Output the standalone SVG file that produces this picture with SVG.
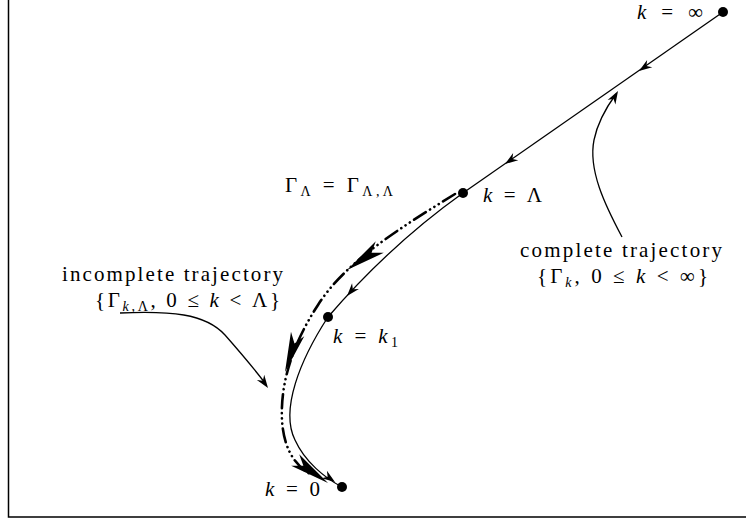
<svg xmlns="http://www.w3.org/2000/svg" xmlns:xlink="http://www.w3.org/1999/xlink" width="746" height="522" viewBox="0 0 746 522">
<style>
text{font-family:"Liberation Serif","DejaVu Serif",serif;font-size:21px;fill:#000}
.it{font-style:italic}
.sub{font-size:14px}
.ln{fill:none;stroke:#000;stroke-width:1.3}
.dd{fill:none;stroke:#000;stroke-width:2.6;stroke-dasharray:14 5 0.1 5 0.1 5 0.1 5;stroke-linecap:round}
.dot{fill:#000}
</style>
<defs>
<path id="ah" d="M0,0 L-13,-4.5 L-9,0 L-13,4.5 Z" fill="#000"/>
<path id="bh" d="M0,0 L-40,-7 L-30,0 L-40,7 Z" fill="#000"/>
</defs>
<rect width="746" height="522" fill="#fff"/>
<g id="frame">
<path d="M8.5,0 V517 H746" fill="none" stroke="#000" stroke-width="1.5"/>
</g>
<g id="connectors">
<path class="ln" d="M723,12 L463,193"/>
<use xlink:href="#ah" transform="translate(639,71) rotate(145.3)"/>
<use xlink:href="#ah" transform="translate(505,164) rotate(145.3)"/>
<path class="ln" d="M463,193 Q390,245 328,317"/>
<use xlink:href="#ah" transform="translate(347,296) rotate(130.7)"/>
<path class="ln" d="M328,317 C300,360 280,410 295,440 C305,462 325,478 342,487"/>
<use xlink:href="#ah" transform="translate(335,482) rotate(35)"/>
<path class="dd" d="M455,194 C400,228 345,262 318,305 C295,340 280,380 282,420 C284,455 300,468 310,474"/>
<use xlink:href="#bh" transform="translate(347,270) rotate(145)"/>
<use xlink:href="#bh" transform="translate(285,372) rotate(108.4)"/>
<use xlink:href="#bh" transform="translate(328,483) rotate(34.9)"/>
<path class="ln" d="M622,237 C605,205 588,170 594,140 C598,120 608,105 616,94"/>
<use xlink:href="#ah" transform="translate(618,91) rotate(-60)"/>
<path class="ln" d="M120,313 C170,311 205,313 225,335 C240,352 255,370 265,383"/>
<use xlink:href="#ah" transform="translate(268,388) rotate(55)"/>
</g>
<g id="node-kinf">
<circle class="dot" cx="723" cy="12" r="5"/>
<text x="637" y="19" textLength="66" lengthAdjust="spacing"><tspan class="it">k</tspan> = ∞</text>
</g>
<g id="node-klambda">
<circle class="dot" cx="463" cy="193" r="5"/>
<text x="483" y="202" textLength="59" lengthAdjust="spacing"><tspan class="it">k</tspan> = Λ</text>
</g>
<g id="node-gamma">
<text x="285" y="192" textLength="108" lengthAdjust="spacing">Γ<tspan class="sub" dy="4">Λ</tspan><tspan dy="-4"> = Γ</tspan><tspan class="sub" dy="4">Λ,Λ</tspan></text>
</g>
<g id="node-k1">
<circle class="dot" cx="328" cy="317" r="5"/>
<text x="333" y="343" textLength="65" lengthAdjust="spacing"><tspan class="it">k</tspan> = <tspan class="it">k</tspan><tspan class="sub" dy="4">1</tspan></text>
</g>
<g id="node-k0">
<circle class="dot" cx="342" cy="487" r="5"/>
<text x="265" y="496" textLength="55" lengthAdjust="spacing"><tspan class="it">k</tspan> = 0</text>
</g>
<g id="label-complete">
<text x="520" y="257" textLength="202" lengthAdjust="spacing">complete trajectory</text>
<text x="537" y="283" textLength="171" lengthAdjust="spacing">{Γ<tspan class="sub it" dy="4">k</tspan><tspan dy="-4">, 0 ≤ </tspan><tspan class="it">k</tspan> &lt; ∞}</text>
</g>
<g id="label-incomplete">
<text x="62" y="281" textLength="221" lengthAdjust="spacing">incomplete trajectory</text>
<text x="95" y="307" textLength="185" lengthAdjust="spacing">{Γ<tspan class="sub it" dy="4">k</tspan><tspan class="sub">,Λ</tspan><tspan dy="-4">, 0 ≤ </tspan><tspan class="it">k</tspan> &lt; Λ}</text>
</g>
</svg>
